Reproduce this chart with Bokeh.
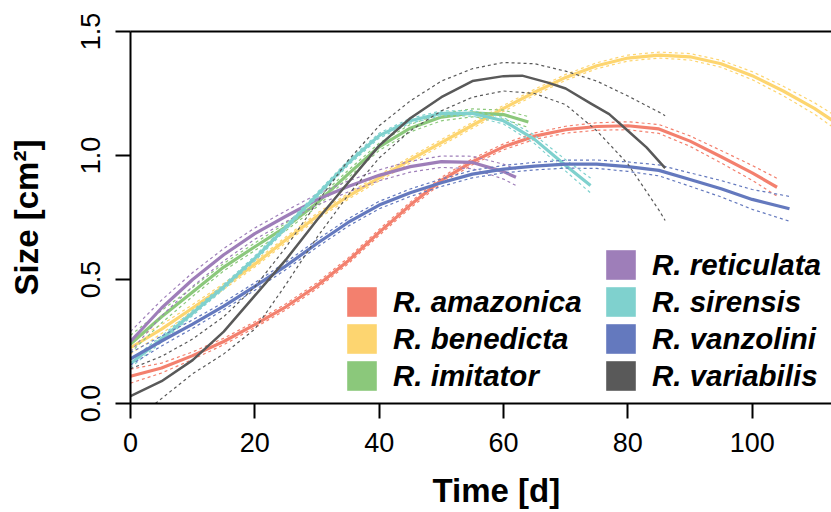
from bokeh.plotting import figure
from bokeh.models import (Range1d, FixedTicker, PrintfTickFormatter, LinearAxis,
                          Legend, LegendItem, Title)
from bokeh.embed import file_html
from bokeh.resources import INLINE

# ---------------- data ----------------
species = ["R. amazonica", "R. benedicta", "R. imitator", "R. reticulata",
           "R. sirensis", "R. vanzolini", "R. variabilis"]
colors = ["#F3806E", "#FDD570", "#8BC87B", "#9E7EB9", "#7FD1CE", "#6479BE", "#595959"]

amazonica_x = [0, 5, 10, 15, 20, 25, 30, 35, 40, 45, 50, 55, 60, 65, 70, 75, 80, 85, 90, 95, 100, 104]
amazonica_fit = [0.11, 0.143, 0.193, 0.25, 0.318, 0.39, 0.475, 0.575, 0.69, 0.80, 0.90, 0.975,
                 1.035, 1.078, 1.104, 1.117, 1.12, 1.107, 1.058, 0.995, 0.93, 0.872]
amazonica_lo = [0.082, 0.123, 0.178, 0.237, 0.306, 0.378, 0.463, 0.563, 0.678, 0.788, 0.888, 0.963,
                1.023, 1.065, 1.090, 1.102, 1.104, 1.089, 1.037, 0.970, 0.900, 0.836]
amazonica_hi = [0.138, 0.163, 0.208, 0.263, 0.330, 0.402, 0.487, 0.587, 0.702, 0.812, 0.912, 0.987,
                1.047, 1.091, 1.118, 1.132, 1.136, 1.125, 1.079, 1.020, 0.960, 0.908]

benedicta_x = [0, 5, 10, 15, 20, 25, 30, 35, 40, 45, 50, 55, 60, 65, 70, 75, 80, 85, 90, 95, 100,
               105, 110, 113]
benedicta_fit = [0.225, 0.30, 0.385, 0.472, 0.562, 0.66, 0.755, 0.835, 0.91, 0.982, 1.052, 1.122,
                 1.19, 1.255, 1.315, 1.362, 1.393, 1.405, 1.398, 1.37, 1.322, 1.26, 1.19, 1.14]
benedicta_lo = [0.200, 0.282, 0.371, 0.460, 0.550, 0.648, 0.743, 0.823, 0.898, 0.970, 1.040, 1.110,
                1.178, 1.243, 1.303, 1.350, 1.381, 1.393, 1.385, 1.356, 1.306, 1.241, 1.167, 1.114]
benedicta_hi = [0.250, 0.318, 0.399, 0.484, 0.574, 0.672, 0.767, 0.847, 0.922, 0.994, 1.064, 1.134,
                1.202, 1.267, 1.327, 1.374, 1.405, 1.417, 1.411, 1.384, 1.338, 1.279, 1.213, 1.166]

imitator_x = [0, 5, 10, 15, 20, 25, 30, 35, 40, 45, 50, 55, 60, 64]
imitator_fit = [0.24, 0.35, 0.45, 0.55, 0.632, 0.712, 0.808, 0.925, 1.035, 1.11, 1.155, 1.172, 1.165, 1.135]
imitator_lo = [0.205, 0.325, 0.432, 0.535, 0.617, 0.697, 0.793, 0.910, 1.020, 1.095, 1.140, 1.156, 1.147, 1.113]
imitator_hi = [0.275, 0.375, 0.468, 0.565, 0.647, 0.727, 0.823, 0.940, 1.050, 1.125, 1.170, 1.188, 1.183, 1.157]

reticulata_x = [0, 5, 10, 15, 20, 25, 30, 35, 40, 45, 50, 55, 60, 62]
reticulata_fit = [0.25, 0.385, 0.50, 0.60, 0.685, 0.755, 0.822, 0.875, 0.92, 0.955, 0.975, 0.972, 0.935, 0.912]
reticulata_lo = [0.210, 0.353, 0.472, 0.575, 0.662, 0.733, 0.800, 0.853, 0.898, 0.933, 0.952, 0.947, 0.905, 0.879]
reticulata_hi = [0.290, 0.417, 0.528, 0.625, 0.708, 0.777, 0.844, 0.897, 0.942, 0.977, 0.998, 0.997, 0.965, 0.945]

sirensis_x = [0, 5, 10, 15, 20, 25, 30, 35, 40, 45, 50, 55, 60, 65, 70, 74]
sirensis_fit = [0.16, 0.26, 0.365, 0.47, 0.585, 0.71, 0.84, 0.97, 1.08, 1.14, 1.17, 1.17, 1.14,
                1.065, 0.96, 0.879]
sirensis_lo = [0.145, 0.248, 0.355, 0.460, 0.575, 0.700, 0.830, 0.960, 1.070, 1.130, 1.160, 1.159,
               1.127, 1.048, 0.937, 0.849]
sirensis_hi = [0.175, 0.272, 0.375, 0.480, 0.595, 0.720, 0.850, 0.980, 1.090, 1.150, 1.180, 1.181,
               1.153, 1.082, 0.983, 0.909]

vanzolini_x = [0, 5, 10, 15, 20, 25, 30, 35, 40, 45, 50, 55, 60, 65, 70, 75, 80, 85, 90, 95, 100, 106]
vanzolini_fit = [0.18, 0.252, 0.32, 0.393, 0.472, 0.555, 0.645, 0.73, 0.80, 0.85, 0.89, 0.925, 0.945,
                 0.957, 0.965, 0.965, 0.955, 0.94, 0.903, 0.866, 0.823, 0.785]
vanzolini_lo = [0.155, 0.232, 0.303, 0.378, 0.457, 0.540, 0.630, 0.715, 0.785, 0.835, 0.875, 0.910,
                0.930, 0.942, 0.949, 0.948, 0.936, 0.918, 0.876, 0.833, 0.783, 0.735]
vanzolini_hi = [0.205, 0.272, 0.337, 0.408, 0.487, 0.570, 0.660, 0.745, 0.815, 0.865, 0.905, 0.940,
                0.960, 0.972, 0.981, 0.982, 0.974, 0.962, 0.930, 0.899, 0.863, 0.835]

variabilis_x = [0, 5, 10, 15, 20, 25, 30, 35, 40, 45, 50, 55, 60, 63, 67, 70, 74, 77, 80, 83, 86]
variabilis_fit = [0.03, 0.09, 0.175, 0.29, 0.435, 0.58, 0.74, 0.89, 1.04, 1.15, 1.235, 1.30, 1.32,
                  1.322, 1.295, 1.27, 1.21, 1.167, 1.10, 1.033, 0.949]
variabilis_lo_x = [4, 10, 15, 20, 25, 30, 35, 40, 45, 50, 55, 60, 65, 70, 75, 80, 85, 86]
variabilis_lo = [0.0, 0.12, 0.20, 0.30, 0.48, 0.67, 0.84, 0.99, 1.10, 1.18, 1.235, 1.26, 1.25,
                 1.205, 1.10, 0.966, 0.78, 0.738]
variabilis_hi_x = [0, 5, 10, 15, 20, 25, 30, 35, 40, 45, 50, 55, 60, 65, 70, 75, 80, 85, 86]
variabilis_hi = [0.14, 0.19, 0.26, 0.35, 0.47, 0.63, 0.81, 0.98, 1.12, 1.22, 1.30, 1.35, 1.375,
                 1.37, 1.34, 1.30, 1.24, 1.175, 1.16]

x_ticks = [0, 20, 40, 60, 80, 100]
y_ticks = [0.0, 0.5, 1.0, 1.5]
x_max = 112.76

series = [
    (amazonica_x, amazonica_fit, amazonica_x, amazonica_lo, amazonica_x, amazonica_hi),
    (benedicta_x, benedicta_fit, benedicta_x, benedicta_lo, benedicta_x, benedicta_hi),
    (imitator_x, imitator_fit, imitator_x, imitator_lo, imitator_x, imitator_hi),
    (reticulata_x, reticulata_fit, reticulata_x, reticulata_lo, reticulata_x, reticulata_hi),
    (sirensis_x, sirensis_fit, sirensis_x, sirensis_lo, sirensis_x, sirensis_hi),
    (vanzolini_x, vanzolini_fit, vanzolini_x, vanzolini_lo, vanzolini_x, vanzolini_hi),
    (variabilis_x, variabilis_fit, variabilis_lo_x, variabilis_lo, variabilis_hi_x, variabilis_hi),
]

FONT = "Liberation Sans"

p = figure(width=831, height=512, x_range=Range1d(0, x_max), y_range=Range1d(0, 1.5),
           output_backend="svg", toolbar_location=None,
           min_border_left=130, min_border_right=0, min_border_top=31, min_border_bottom=109)
p.outline_line_color = None
p.xgrid.visible = False
p.ygrid.visible = False
p.background_fill_color = "white"
p.border_fill_color = "white"

for ax in (p.xaxis[0], p.yaxis[0]):
    ax.axis_line_width = 2
    ax.axis_line_color = "black"
    ax.major_tick_line_width = 2
    ax.major_tick_line_color = "black"
    ax.major_tick_out = 15
    ax.major_tick_in = 0
    ax.minor_tick_out = 0
    ax.minor_tick_in = 0
    ax.major_label_text_font = FONT
    ax.major_label_text_font_size = "27px"
    ax.major_label_text_color = "black"

p.xaxis.ticker = FixedTicker(ticks=x_ticks)
p.xaxis.formatter = PrintfTickFormatter(format="%d")
p.xaxis.major_label_standoff = 14
p.yaxis.ticker = FixedTicker(ticks=y_ticks)
p.yaxis.formatter = PrintfTickFormatter(format="%.1f")
p.yaxis.major_label_orientation = "vertical"
p.yaxis.major_label_standoff = 16
p.yaxis.axis_label = "Size [cm²]"
p.yaxis.axis_label_text_font = FONT
p.yaxis.axis_label_text_font_size = "33px"
p.yaxis.axis_label_text_font_style = "bold"
p.yaxis.axis_label_text_color = "black"
p.yaxis.axis_label_standoff = 33

top = LinearAxis(ticker=FixedTicker(ticks=[]), axis_line_width=2, axis_line_color="black",
                 major_tick_out=0, major_tick_in=0, minor_tick_out=0, minor_tick_in=0,
                 major_label_text_font_size="0px")
p.add_layout(top, "above")

# x-axis title (R centres it on a plot region wider than the image, so it sits right of centre)
xtitle = Title(text="Time [d]", align="left", offset=302, text_font=FONT,
               text_font_size="33px", text_font_style="bold", text_color="black",
               vertical_align="top", standoff=0)
try:
    xtitle.padding = dict(left=0, right=0, top=17, bottom=0)
except Exception:
    pass
p.add_layout(xtitle, "below")

for (fx, fy, lx, ly, hx, hy), c in zip(series, colors):
    lw = 2.5 if c == "#595959" else 3.2
    p.line(fx, fy, line_color=c, line_width=lw, line_join="round")
    p.line(lx, ly, line_color=c, line_width=1.2, line_dash="3 3")
    p.line(hx, hy, line_color=c, line_width=1.2, line_dash="3 3")

# legend proxies: one off-screen point each, only their legend swatch is seen
proxies = [p.rect(x=[-50], y=[-5], width=1, height=1, fill_color=c, line_color=None)
           for c in colors]

def make_legend(idx, loc):
    items = [LegendItem(label=species[i], renderers=[proxies[i]]) for i in idx]
    return Legend(items=items, location=loc, orientation="vertical",
                  glyph_width=37, glyph_height=37, label_standoff=13, spacing=0,
                  padding=0, margin=0, border_line_color=None, background_fill_alpha=0,
                  label_text_font=FONT, label_text_font_size="29.5px",
                  label_text_font_style="bold italic", label_text_color="black",
                  label_height=30)

p.add_layout(make_legend([3, 4, 5, 6], (472, 9)), "center")
p.add_layout(make_legend([0, 1, 2], (213, 9)), "center")

open("out.html", "w").write(file_html(p, INLINE))
